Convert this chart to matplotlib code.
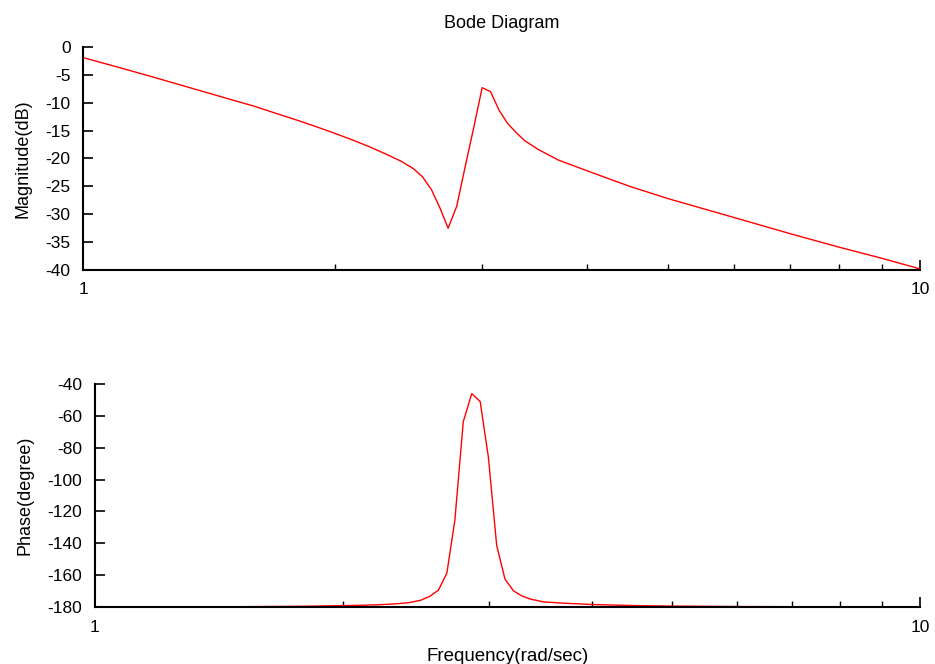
import matplotlib.pyplot as plt
from matplotlib.ticker import FixedLocator, NullFormatter

plt.rcParams['font.family'] = ['Liberation Sans', 'DejaVu Sans']
plt.rcParams['axes.unicode_minus'] = False

freq = [1.0, 1.1, 1.2, 1.3, 1.4, 1.5, 1.6, 1.7, 1.8, 1.9, 2.0, 2.1, 2.2, 2.3, 2.4,
        2.48, 2.545, 2.608, 2.67, 2.73, 2.795, 2.862, 2.93, 2.998, 3.068, 3.14,
        3.215, 3.29, 3.37, 3.5, 3.7, 4.0, 4.5, 5.0, 6.0, 7.0, 8.0, 9.0, 10.0]

mag_db = [-1.9, -3.6, -5.2, -6.7, -8.1, -9.4, -10.6, -11.9, -13.1, -14.3, -15.5, -16.7,
          -17.9, -19.2, -20.5, -21.8, -23.3, -25.6, -28.9, -32.5, -28.6, -21.4, -14.4,
          -7.3, -8.0, -11.3, -13.7, -15.3, -16.8, -18.4, -20.3, -22.2, -25.0, -27.2,
          -30.6, -33.5, -35.9, -37.9, -39.8]

phase_deg = [-180.0, -179.9, -179.9, -179.9, -179.8, -179.8, -179.7, -179.6, -179.5,
             -179.3, -179.1, -178.9, -178.6, -178.1, -177.3, -175.8, -173.3, -169.4,
             -158.6, -125.6, -63.6, -46.0, -51.0, -86.0, -141.3, -162.5, -169.8,
             -173.0, -175.0, -176.8, -177.6, -178.4, -179.1, -179.4, -179.7, -179.8,
             -179.9, -180.0, -180.0]

fig = plt.figure(figsize=(9.35, 6.64), dpi=100)
ax1 = fig.add_axes([0.0888, 0.5934, 0.8952, 0.3358])
ax2 = fig.add_axes([0.1016, 0.0858, 0.8824, 0.3358])

ax1.plot(freq, mag_db, color='red', lw=1)
ax2.plot(freq, phase_deg, color='red', lw=1)

for ax in (ax1, ax2):
    ax.set_xscale('log')
    ax.set_xlim(1, 10)
    for s in ('top', 'right'):
        ax.spines[s].set_visible(False)
    for s in ('left', 'bottom'):
        ax.spines[s].set_linewidth(1.5)
    ax.xaxis.set_major_locator(FixedLocator([1, 10]))
    ax.xaxis.set_minor_locator(FixedLocator([2, 3, 4, 5, 6, 7, 8, 9]))
    ax.xaxis.set_minor_formatter(NullFormatter())
    ax.set_xticklabels(['1', '10'])
    ax.tick_params(which='major', direction='in', length=7, width=1.2, labelsize=12.5)
    ax.tick_params(which='minor', direction='in', length=4, width=1)
    ax.tick_params(axis='x', which='major', pad=9)
    ax.tick_params(axis='y', which='major', pad=9)

ax1.set_ylim(-40, 0)
ax1.set_yticks(range(-40, 1, 5))
ax2.set_ylim(-180, -40)
ax2.set_yticks(range(-180, -39, 20))

ax1.set_ylabel('Magnitude(dB)', fontsize=13, labelpad=10)
ax2.set_ylabel('Phase(degree)', fontsize=13, labelpad=10)
ax2.set_xlabel('Frequency(rad/sec)', fontsize=13.5, labelpad=10)
ax1.set_title('Bode Diagram', fontsize=13, pad=14)

plt.savefig('out.png', dpi=100)
